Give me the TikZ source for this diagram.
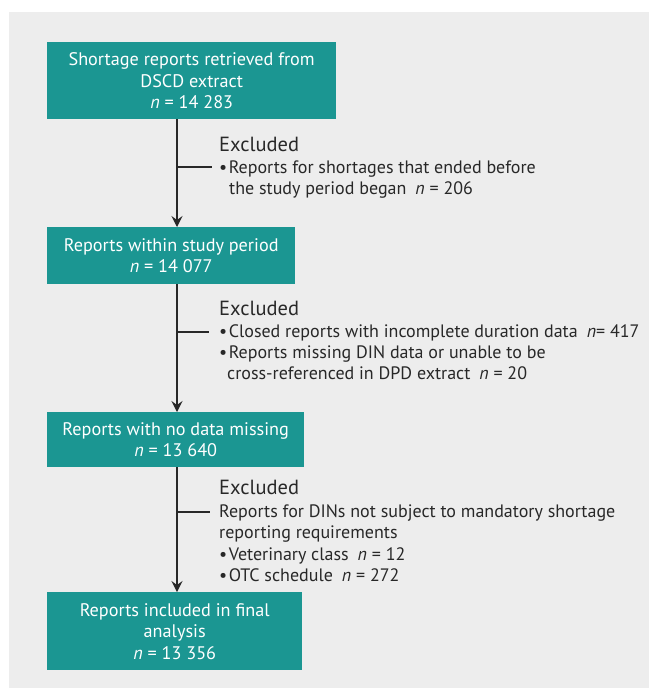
\documentclass[tikz,border=0pt]{standalone}
\usepackage{fontspec}
\setmainfont{PT Sans}
\usetikzlibrary{
  arrows.meta,
  positioning
}
\definecolor{boxteal}{RGB}{27,150,146}
\definecolor{panelgrey}{RGB}{237,237,237}
\definecolor{inkgrey}{RGB}{40,40,40}

\begin{document}
\begin{tikzpicture}[x=1pt,y=-1pt,
      stage/.style={
         rectangle,
         anchor=north west,
         fill=boxteal,
         text=white,
         align=center,
         inner sep=0pt,
         font=\fontsize{18.2}{21.5}\selectfont
      },
      exhead/.style={
         anchor=base west,
         inner sep=0pt,
         text=inkgrey,
         font=\fontsize{20.5}{22}\selectfont
      },
      exline/.style={
         anchor=base west,
         inner sep=0pt,
         text=inkgrey,
         font=\fontsize{18}{21}\selectfont
      },
      wire/.style={draw=inkgrey, line width=1.2pt},
      tip/.style={wire, -{Stealth[length=11pt,width=11pt,inset=4pt]}},
    ]
    \useasboundingbox (0,0) rectangle (649,688);
    \fill[panelgrey] (9,12) rectangle (649,688);
    % boxes
    \node[stage, minimum width=289pt, minimum height=77pt] (retrieved) at (47,42)
       {Shortage reports retrieved from\\DSCD extract\\{\itshape n} = 14 283};
    \node[stage, minimum width=248pt, minimum height=57pt] (period) at (47,227)
       {Reports within study period\\{\itshape n} = 14 077};
    \node[stage, minimum width=257pt, minimum height=55pt] (complete) at (47,412)
       {Reports with no data missing\\{\itshape n} = 13 640};
    \node[stage, minimum width=255pt, minimum height=78pt] (final) at (47,592)
       {Reports included in final\\analysis\\{\itshape n} = 13 356};
    % exclusions
    \node[exhead] (exA) at (219,151) {Excluded};
    \node[exline] (exA1) at (219,173) {\textbullet\kern1.5pt Reports for shortages that ended before};
    \node[exline] (exA2) at (229,194) {the study period began\enspace{\itshape n} = 206};
    \node[exhead] (exB) at (219,315) {Excluded};
    \node[exline] (exB1) at (219,337) {\textbullet\kern1.5pt Closed reports with incomplete duration data\enspace{\itshape n}= 417};
    \node[exline] (exB2) at (219,358) {\textbullet\kern1.5pt Reports missing DIN data or unable to be};
    \node[exline] (exB3) at (227,379) {cross-referenced in DPD extract\enspace{\itshape n} = 20};
    \node[exhead] (exC) at (219,494) {Excluded};
    \node[exline] (exC1) at (219,517) {Reports for DINs not subject to mandatory shortage};
    \node[exline] (exC2) at (219,538) {reporting requirements};
    \node[exline] (exC3) at (219,560) {\textbullet\kern1.5pt Veterinary class\enspace{\itshape n} = 12};
    \node[exline] (exC4) at (219,581) {\textbullet\kern1.5pt OTC schedule\enspace{\itshape n} = 272};
    % flow
    \coordinate (spine) at (177,0);
    \coordinate (cutA) at (212,167);
    \coordinate (cutB) at (209,332);
    \coordinate (cutC) at (210,512);
    \draw[tip] (spine |- retrieved.south) -- (spine |- period.north);
    \draw[tip] (spine |- period.south) -- (spine |- complete.north);
    \draw[tip] (spine |- complete.south) -- (spine |- final.north);
    \draw[wire] (spine |- cutA) -- (cutA);
    \draw[wire] (spine |- cutB) -- (cutB);
    \draw[wire] (spine |- cutC) -- (cutC);
\end{tikzpicture}
\end{document}
